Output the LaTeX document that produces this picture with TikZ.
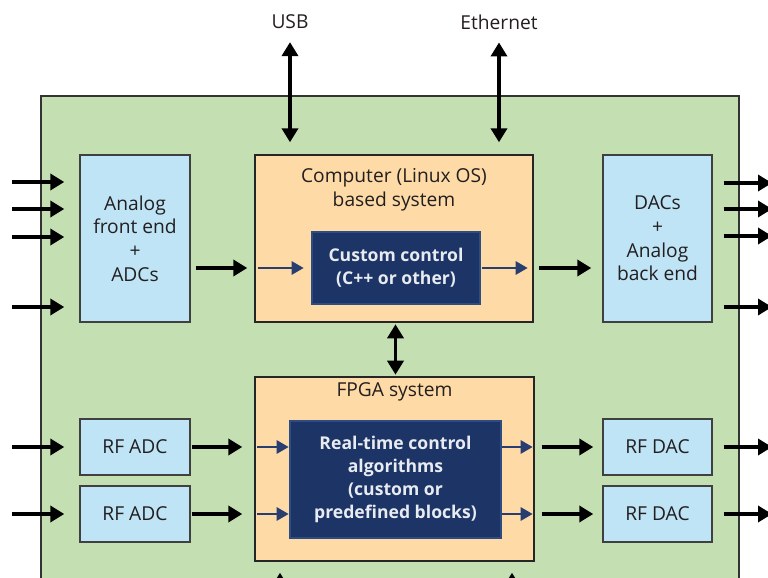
\documentclass[tikz,border=0pt]{standalone}
\usepackage{fontspec}
\setmainfont{Open Sans}
\usetikzlibrary{shapes,arrows.meta}

\definecolor{boardgreen}{RGB}{196,223,178}
\definecolor{peach}{RGB}{253,218,166}
\definecolor{convblue}{RGB}{190,228,246}
\definecolor{navy}{RGB}{28,52,102}
\definecolor{navyedge}{RGB}{46,76,132}
\definecolor{navyarrow}{RGB}{40,62,112}
\definecolor{textgray}{RGB}{35,31,32}

\tikzset{
  sysbox/.style={shape=rectangle, draw=black!85, line width=0.7pt, fill=peach, inner sep=0pt},
  convbox/.style={shape=rectangle, draw=black!75, line width=0.7pt, fill=convblue, text=textgray, align=center, inner sep=0pt},
  ctrlbox/.style={shape=rectangle, draw=navyedge, line width=1.3pt, fill=navy, text=white!90!navy, align=center, font=\fontsize{8.8}{11.6}\selectfont\bfseries, inner sep=0pt},
  sig/.style={-{Triangle[length=7pt,width=8pt]}, line width=1.8pt},
  bisig/.style={{Triangle[length=7pt,width=8pt]}-{Triangle[length=7pt,width=8pt]}, line width=1.8pt},
  insig/.style={-{Triangle[length=6pt,width=6.5pt]}, line width=1.4pt, draw=navyarrow, color=navyarrow},
}

\begin{document}
\begin{tikzpicture}[x=0.5pt, y=-0.5pt, font=\fontsize{9.6}{11.8}\selectfont, text=textgray]
\useasboundingbox (0,0) rectangle (768,578);
\clip (0,0) rectangle (768,578);

% board
\draw [fill=boardgreen, draw=black!80, line width=0.8pt] (41,96) rectangle (739,650);

\node (usb) at (290,22) {USB};
\node (ether) at (499,22) {Ethernet};

\node (analog) at (135,238.5) [convbox, minimum width=55pt, minimum height=83.5pt]{Analog\\front end\\+\\ADCs};
\node (comp) at (394,238.5) [sysbox, minimum width=139pt, minimum height=83.5pt]{};
\node (comptitle) at (394,190) [align=center]{Computer (Linux OS)\\based system};
\node (custom) at (396,268) [ctrlbox, minimum width=84pt, minimum height=36pt]{Custom control\\(C++ or other)};
\node (dac) at (657.5,238.5) [convbox, minimum width=54.5pt, minimum height=83.5pt]{DACs\\+\\Analog\\back end};

\node (fpga) at (394.5,469) [sysbox, minimum width=139.5pt, minimum height=92pt]{};
\node (fpgatitle) at (394.5,392) {FPGA system};
\node (rt) at (395.5,479.5) [ctrlbox, minimum width=105.5pt, minimum height=58.5pt]{Real-time control\\algorithms\\(custom or\\predefined blocks)};

\node (adca) at (135,447) [convbox, minimum width=55pt, minimum height=28pt]{RF ADC};
\node (adcb) at (135,514) [convbox, minimum width=55pt, minimum height=28pt]{RF ADC};
\node (daca) at (657.5,447) [convbox, minimum width=54.5pt, minimum height=28pt]{RF DAC};
\node (dacb) at (657.5,514) [convbox, minimum width=54.5pt, minimum height=28pt]{RF DAC};

% outside links
\draw [bisig, shorten <=3pt, shorten >=6pt] (usb) -- (comp.north -| usb);
\draw [bisig, shorten <=3pt, shorten >=6pt] (ether) -- (comp.north -| ether);
\draw [bisig, shorten <=0.8pt, shorten >=0.8pt] (comp.south -| rt.north) -- (fpga.north -| rt.north);

\coordinate (bota) at (280,640);
\coordinate (botb) at (512,640);
\draw [sig, shorten >=5.5pt] (bota) -- (fpga.south -| bota);
\draw [sig, shorten >=5.5pt] (botb) -- (fpga.south -| botb);

% analog inputs and outputs
\foreach \y [count=\i] in {182,209,237,307} {
  \coordinate (in\i) at (12,\y);
  \draw [sig, shorten >=7.5pt] (in\i) -- (analog.west |- in\i);
}
\foreach \y [count=\i] in {183,209,236,307} {
  \coordinate (out\i) at (772,\y);
  \draw [sig, shorten <=5.5pt] (dac.east |- out\i) -- (out\i);
}

\draw [sig, shorten <=2.5pt, shorten >=3.5pt] (analog.east |- custom.west) -- (comp.west |- custom.west);
\draw [insig, shorten <=2pt, shorten >=3.5pt] (comp.west |- custom.west) -- (custom.west);
\draw [insig, shorten <=0.5pt, shorten >=3pt] (custom.east) -- (comp.east |- custom.east);
\draw [sig, shorten <=2.5pt, shorten >=5.5pt] (comp.east |- custom.east) -- (dac.west |- custom.east);

% rf chain
\coordinate (rfina) at (12,447);
\coordinate (rfinb) at (12,514);
\coordinate (rfouta) at (772,447);
\coordinate (rfoutb) at (772,514);
\draw [sig, shorten >=7.5pt] (rfina) -- (adca);
\draw [sig, shorten >=7.5pt] (rfinb) -- (adcb);
\draw [sig, shorten <=0.5pt, shorten >=6pt] (adca) -- (fpga.west |- adca);
\draw [sig, shorten <=0.5pt, shorten >=6pt] (adcb) -- (fpga.west |- adcb);
\draw [insig, shorten <=1.5pt] (fpga.west |- adca) -- (rt.west |- adca);
\draw [insig, shorten <=1.5pt] (fpga.west |- adcb) -- (rt.west |- adcb);
\draw [insig, shorten >=1pt] (rt.east |- daca) -- (fpga.east |- daca);
\draw [insig, shorten >=1pt] (rt.east |- dacb) -- (fpga.east |- dacb);
\draw [sig, shorten <=3.5pt, shorten >=4.5pt] (fpga.east |- daca) -- (daca);
\draw [sig, shorten <=3.5pt, shorten >=4.5pt] (fpga.east |- dacb) -- (dacb);
\draw [sig, shorten <=5.5pt] (daca) -- (rfouta);
\draw [sig, shorten <=5.5pt] (dacb) -- (rfoutb);
\end{tikzpicture}
\end{document}
